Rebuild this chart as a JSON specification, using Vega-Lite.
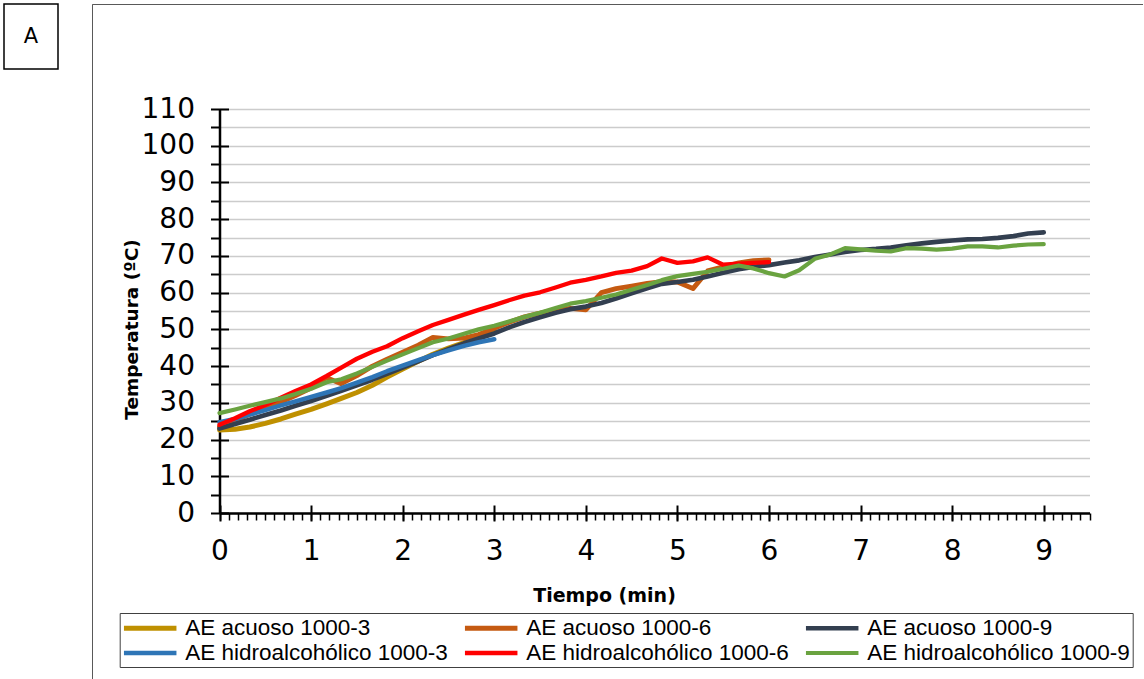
{
  "$schema": "https://vega.github.io/schema/vega-lite/v6.json",
  "background": "white",
  "padding": {"left": 3, "top": 3, "right": 0, "bottom": 0},
  "spacing": 32,
  "config": {
    "font": "DejaVu Sans",
    "axis": {"labelColor": "#000000", "tickColor": "#000000", "domainColor": "#000000", "titleColor": "#000000", "labelFont": "DejaVu Sans", "titleFont": "DejaVu Sans"}
  },
  "hconcat": [
    {
      "width": 54,
      "height": 65,
      "view": {"stroke": "#000000", "strokeWidth": 1.5, "fill": "white"},
      "data": {"values": [{"etiqueta": "A"}]},
      "mark": {"type": "text", "fontSize": 21, "font": "DejaVu Sans", "color": "#000000"},
      "encoding": {
        "text": {"field": "etiqueta"},
        "x": {"datum": 0.5, "type": "quantitative", "scale": {"domain": [0, 1]}, "axis": null},
        "y": {"datum": 0.5, "type": "quantitative", "scale": {"domain": [0, 1]}, "axis": null}
      }
    },
    {
      "width": 1050.5,
      "height": 675,
      "view": {"stroke": "#595959", "strokeWidth": 1, "strokeDash": [1050.5, 1725.5, 700, 10]},
      "data": {"values": [
        {"serie": "AE acuoso 1000-3", "t": 0, "temp": 22.6},
        {"serie": "AE acuoso 1000-3", "t": 0.17, "temp": 22.8},
        {"serie": "AE acuoso 1000-3", "t": 0.33, "temp": 23.4},
        {"serie": "AE acuoso 1000-3", "t": 0.5, "temp": 24.4},
        {"serie": "AE acuoso 1000-3", "t": 0.67, "temp": 25.6},
        {"serie": "AE acuoso 1000-3", "t": 0.83, "temp": 26.9},
        {"serie": "AE acuoso 1000-3", "t": 1, "temp": 28.2},
        {"serie": "AE acuoso 1000-3", "t": 1.17, "temp": 29.7},
        {"serie": "AE acuoso 1000-3", "t": 1.33, "temp": 31.2},
        {"serie": "AE acuoso 1000-3", "t": 1.5, "temp": 32.8},
        {"serie": "AE acuoso 1000-3", "t": 1.67, "temp": 34.8},
        {"serie": "AE acuoso 1000-3", "t": 1.83, "temp": 37.0},
        {"serie": "AE acuoso 1000-3", "t": 2, "temp": 39.2},
        {"serie": "AE acuoso 1000-3", "t": 2.17, "temp": 41.3},
        {"serie": "AE acuoso 1000-3", "t": 2.33, "temp": 43.2},
        {"serie": "AE acuoso 1000-3", "t": 2.5, "temp": 44.9},
        {"serie": "AE acuoso 1000-3", "t": 2.67, "temp": 46.4},
        {"serie": "AE acuoso 1000-3", "t": 2.83, "temp": 48.0},
        {"serie": "AE acuoso 1000-3", "t": 3, "temp": 49.4},

        {"serie": "AE acuoso 1000-6", "t": 0, "temp": 23.5},
        {"serie": "AE acuoso 1000-6", "t": 0.17, "temp": 25.2},
        {"serie": "AE acuoso 1000-6", "t": 0.33, "temp": 26.9},
        {"serie": "AE acuoso 1000-6", "t": 0.5, "temp": 28.5},
        {"serie": "AE acuoso 1000-6", "t": 0.67, "temp": 30.2},
        {"serie": "AE acuoso 1000-6", "t": 0.83, "temp": 32.0},
        {"serie": "AE acuoso 1000-6", "t": 1, "temp": 34.0},
        {"serie": "AE acuoso 1000-6", "t": 1.17, "temp": 36.8},
        {"serie": "AE acuoso 1000-6", "t": 1.33, "temp": 35.2},
        {"serie": "AE acuoso 1000-6", "t": 1.5, "temp": 37.4},
        {"serie": "AE acuoso 1000-6", "t": 1.67, "temp": 40.0},
        {"serie": "AE acuoso 1000-6", "t": 1.83, "temp": 41.9},
        {"serie": "AE acuoso 1000-6", "t": 2, "temp": 43.8},
        {"serie": "AE acuoso 1000-6", "t": 2.17, "temp": 45.7},
        {"serie": "AE acuoso 1000-6", "t": 2.33, "temp": 47.8},
        {"serie": "AE acuoso 1000-6", "t": 2.5, "temp": 47.4},
        {"serie": "AE acuoso 1000-6", "t": 2.67, "temp": 47.6},
        {"serie": "AE acuoso 1000-6", "t": 2.83, "temp": 48.6},
        {"serie": "AE acuoso 1000-6", "t": 3, "temp": 50.3},
        {"serie": "AE acuoso 1000-6", "t": 3.17, "temp": 52.0},
        {"serie": "AE acuoso 1000-6", "t": 3.33, "temp": 53.4},
        {"serie": "AE acuoso 1000-6", "t": 3.5, "temp": 54.4},
        {"serie": "AE acuoso 1000-6", "t": 3.67, "temp": 55.3},
        {"serie": "AE acuoso 1000-6", "t": 3.83, "temp": 55.7},
        {"serie": "AE acuoso 1000-6", "t": 4, "temp": 55.3},
        {"serie": "AE acuoso 1000-6", "t": 4.17, "temp": 60.0},
        {"serie": "AE acuoso 1000-6", "t": 4.33, "temp": 61.1},
        {"serie": "AE acuoso 1000-6", "t": 4.5, "temp": 61.8},
        {"serie": "AE acuoso 1000-6", "t": 4.67, "temp": 62.5},
        {"serie": "AE acuoso 1000-6", "t": 4.83, "temp": 63.0},
        {"serie": "AE acuoso 1000-6", "t": 5, "temp": 62.9},
        {"serie": "AE acuoso 1000-6", "t": 5.17, "temp": 61.1},
        {"serie": "AE acuoso 1000-6", "t": 5.33, "temp": 65.9},
        {"serie": "AE acuoso 1000-6", "t": 5.5, "temp": 67.0},
        {"serie": "AE acuoso 1000-6", "t": 5.67, "temp": 68.1},
        {"serie": "AE acuoso 1000-6", "t": 5.83, "temp": 68.7},
        {"serie": "AE acuoso 1000-6", "t": 6, "temp": 68.9},

        {"serie": "AE acuoso 1000-9", "t": 0, "temp": 23.0},
        {"serie": "AE acuoso 1000-9", "t": 0.17, "temp": 24.2},
        {"serie": "AE acuoso 1000-9", "t": 0.33, "temp": 25.4},
        {"serie": "AE acuoso 1000-9", "t": 0.5, "temp": 26.7},
        {"serie": "AE acuoso 1000-9", "t": 0.67, "temp": 27.9},
        {"serie": "AE acuoso 1000-9", "t": 0.83, "temp": 29.2},
        {"serie": "AE acuoso 1000-9", "t": 1, "temp": 30.5},
        {"serie": "AE acuoso 1000-9", "t": 1.17, "temp": 31.9},
        {"serie": "AE acuoso 1000-9", "t": 1.33, "temp": 33.3},
        {"serie": "AE acuoso 1000-9", "t": 1.5, "temp": 34.8},
        {"serie": "AE acuoso 1000-9", "t": 1.67, "temp": 36.3},
        {"serie": "AE acuoso 1000-9", "t": 1.83, "temp": 37.9},
        {"serie": "AE acuoso 1000-9", "t": 2, "temp": 39.6},
        {"serie": "AE acuoso 1000-9", "t": 2.17, "temp": 41.3},
        {"serie": "AE acuoso 1000-9", "t": 2.33, "temp": 43.0},
        {"serie": "AE acuoso 1000-9", "t": 2.5, "temp": 44.6},
        {"serie": "AE acuoso 1000-9", "t": 2.67, "temp": 46.2},
        {"serie": "AE acuoso 1000-9", "t": 2.83, "temp": 47.5},
        {"serie": "AE acuoso 1000-9", "t": 3, "temp": 48.9},
        {"serie": "AE acuoso 1000-9", "t": 3.17, "temp": 50.6},
        {"serie": "AE acuoso 1000-9", "t": 3.33, "temp": 52.0},
        {"serie": "AE acuoso 1000-9", "t": 3.5, "temp": 53.3},
        {"serie": "AE acuoso 1000-9", "t": 3.67, "temp": 54.5},
        {"serie": "AE acuoso 1000-9", "t": 3.83, "temp": 55.5},
        {"serie": "AE acuoso 1000-9", "t": 4, "temp": 56.2},
        {"serie": "AE acuoso 1000-9", "t": 4.17, "temp": 57.2},
        {"serie": "AE acuoso 1000-9", "t": 4.33, "temp": 58.4},
        {"serie": "AE acuoso 1000-9", "t": 4.5, "temp": 59.8},
        {"serie": "AE acuoso 1000-9", "t": 4.67, "temp": 61.2},
        {"serie": "AE acuoso 1000-9", "t": 4.83, "temp": 62.4},
        {"serie": "AE acuoso 1000-9", "t": 5, "temp": 62.9},
        {"serie": "AE acuoso 1000-9", "t": 5.17, "temp": 63.5},
        {"serie": "AE acuoso 1000-9", "t": 5.33, "temp": 64.4},
        {"serie": "AE acuoso 1000-9", "t": 5.5, "temp": 65.4},
        {"serie": "AE acuoso 1000-9", "t": 5.67, "temp": 66.4},
        {"serie": "AE acuoso 1000-9", "t": 5.83, "temp": 67.0},
        {"serie": "AE acuoso 1000-9", "t": 6, "temp": 67.5},
        {"serie": "AE acuoso 1000-9", "t": 6.17, "temp": 68.2},
        {"serie": "AE acuoso 1000-9", "t": 6.33, "temp": 68.8},
        {"serie": "AE acuoso 1000-9", "t": 6.5, "temp": 69.7},
        {"serie": "AE acuoso 1000-9", "t": 6.67, "temp": 70.4},
        {"serie": "AE acuoso 1000-9", "t": 6.83, "temp": 71.1},
        {"serie": "AE acuoso 1000-9", "t": 7, "temp": 71.6},
        {"serie": "AE acuoso 1000-9", "t": 7.17, "temp": 71.9},
        {"serie": "AE acuoso 1000-9", "t": 7.33, "temp": 72.3},
        {"serie": "AE acuoso 1000-9", "t": 7.5, "temp": 72.9},
        {"serie": "AE acuoso 1000-9", "t": 7.67, "temp": 73.4},
        {"serie": "AE acuoso 1000-9", "t": 7.83, "temp": 73.8},
        {"serie": "AE acuoso 1000-9", "t": 8, "temp": 74.2},
        {"serie": "AE acuoso 1000-9", "t": 8.17, "temp": 74.5},
        {"serie": "AE acuoso 1000-9", "t": 8.33, "temp": 74.6},
        {"serie": "AE acuoso 1000-9", "t": 8.5, "temp": 74.9},
        {"serie": "AE acuoso 1000-9", "t": 8.67, "temp": 75.4},
        {"serie": "AE acuoso 1000-9", "t": 8.83, "temp": 76.1},
        {"serie": "AE acuoso 1000-9", "t": 9, "temp": 76.4},

        {"serie": "AE hidroalcohólico 1000-3", "t": 0, "temp": 24.7},
        {"serie": "AE hidroalcohólico 1000-3", "t": 0.17, "temp": 25.6},
        {"serie": "AE hidroalcohólico 1000-3", "t": 0.33, "temp": 26.8},
        {"serie": "AE hidroalcohólico 1000-3", "t": 0.5, "temp": 28.0},
        {"serie": "AE hidroalcohólico 1000-3", "t": 0.67, "temp": 29.3},
        {"serie": "AE hidroalcohólico 1000-3", "t": 0.83, "temp": 30.4},
        {"serie": "AE hidroalcohólico 1000-3", "t": 1, "temp": 31.6},
        {"serie": "AE hidroalcohólico 1000-3", "t": 1.17, "temp": 32.8},
        {"serie": "AE hidroalcohólico 1000-3", "t": 1.33, "temp": 34.0},
        {"serie": "AE hidroalcohólico 1000-3", "t": 1.5, "temp": 35.5},
        {"serie": "AE hidroalcohólico 1000-3", "t": 1.67, "temp": 37.0},
        {"serie": "AE hidroalcohólico 1000-3", "t": 1.83, "temp": 38.6},
        {"serie": "AE hidroalcohólico 1000-3", "t": 2, "temp": 40.1},
        {"serie": "AE hidroalcohólico 1000-3", "t": 2.17, "temp": 41.6},
        {"serie": "AE hidroalcohólico 1000-3", "t": 2.33, "temp": 43.0},
        {"serie": "AE hidroalcohólico 1000-3", "t": 2.5, "temp": 44.3},
        {"serie": "AE hidroalcohólico 1000-3", "t": 2.67, "temp": 45.5},
        {"serie": "AE hidroalcohólico 1000-3", "t": 2.83, "temp": 46.5},
        {"serie": "AE hidroalcohólico 1000-3", "t": 3, "temp": 47.3},

        {"serie": "AE hidroalcohólico 1000-6", "t": 0, "temp": 24.0},
        {"serie": "AE hidroalcohólico 1000-6", "t": 0.17, "temp": 25.8},
        {"serie": "AE hidroalcohólico 1000-6", "t": 0.33, "temp": 27.7},
        {"serie": "AE hidroalcohólico 1000-6", "t": 0.5, "temp": 29.4},
        {"serie": "AE hidroalcohólico 1000-6", "t": 0.67, "temp": 31.4},
        {"serie": "AE hidroalcohólico 1000-6", "t": 0.83, "temp": 33.2},
        {"serie": "AE hidroalcohólico 1000-6", "t": 1, "temp": 35.0},
        {"serie": "AE hidroalcohólico 1000-6", "t": 1.17, "temp": 37.3},
        {"serie": "AE hidroalcohólico 1000-6", "t": 1.33, "temp": 39.6},
        {"serie": "AE hidroalcohólico 1000-6", "t": 1.5, "temp": 42.0},
        {"serie": "AE hidroalcohólico 1000-6", "t": 1.67, "temp": 43.9},
        {"serie": "AE hidroalcohólico 1000-6", "t": 1.83, "temp": 45.4},
        {"serie": "AE hidroalcohólico 1000-6", "t": 2, "temp": 47.6},
        {"serie": "AE hidroalcohólico 1000-6", "t": 2.17, "temp": 49.5},
        {"serie": "AE hidroalcohólico 1000-6", "t": 2.33, "temp": 51.2},
        {"serie": "AE hidroalcohólico 1000-6", "t": 2.5, "temp": 52.6},
        {"serie": "AE hidroalcohólico 1000-6", "t": 2.67, "temp": 54.0},
        {"serie": "AE hidroalcohólico 1000-6", "t": 2.83, "temp": 55.3},
        {"serie": "AE hidroalcohólico 1000-6", "t": 3, "temp": 56.6},
        {"serie": "AE hidroalcohólico 1000-6", "t": 3.17, "temp": 58.0},
        {"serie": "AE hidroalcohólico 1000-6", "t": 3.33, "temp": 59.2},
        {"serie": "AE hidroalcohólico 1000-6", "t": 3.5, "temp": 60.1},
        {"serie": "AE hidroalcohólico 1000-6", "t": 3.67, "temp": 61.4},
        {"serie": "AE hidroalcohólico 1000-6", "t": 3.83, "temp": 62.7},
        {"serie": "AE hidroalcohólico 1000-6", "t": 4, "temp": 63.5},
        {"serie": "AE hidroalcohólico 1000-6", "t": 4.17, "temp": 64.4},
        {"serie": "AE hidroalcohólico 1000-6", "t": 4.33, "temp": 65.4},
        {"serie": "AE hidroalcohólico 1000-6", "t": 4.5, "temp": 66.0},
        {"serie": "AE hidroalcohólico 1000-6", "t": 4.67, "temp": 67.2},
        {"serie": "AE hidroalcohólico 1000-6", "t": 4.83, "temp": 69.3},
        {"serie": "AE hidroalcohólico 1000-6", "t": 5, "temp": 68.1},
        {"serie": "AE hidroalcohólico 1000-6", "t": 5.17, "temp": 68.5},
        {"serie": "AE hidroalcohólico 1000-6", "t": 5.33, "temp": 69.6},
        {"serie": "AE hidroalcohólico 1000-6", "t": 5.5, "temp": 67.6},
        {"serie": "AE hidroalcohólico 1000-6", "t": 5.67, "temp": 67.9},
        {"serie": "AE hidroalcohólico 1000-6", "t": 5.83, "temp": 68.1},
        {"serie": "AE hidroalcohólico 1000-6", "t": 6, "temp": 68.3},

        {"serie": "AE hidroalcohólico 1000-9", "t": 0, "temp": 27.2},
        {"serie": "AE hidroalcohólico 1000-9", "t": 0.17, "temp": 28.2},
        {"serie": "AE hidroalcohólico 1000-9", "t": 0.33, "temp": 29.2},
        {"serie": "AE hidroalcohólico 1000-9", "t": 0.5, "temp": 30.2},
        {"serie": "AE hidroalcohólico 1000-9", "t": 0.67, "temp": 31.2},
        {"serie": "AE hidroalcohólico 1000-9", "t": 0.83, "temp": 32.4},
        {"serie": "AE hidroalcohólico 1000-9", "t": 1, "temp": 33.8},
        {"serie": "AE hidroalcohólico 1000-9", "t": 1.17, "temp": 35.6},
        {"serie": "AE hidroalcohólico 1000-9", "t": 1.33, "temp": 36.4},
        {"serie": "AE hidroalcohólico 1000-9", "t": 1.5, "temp": 38.0},
        {"serie": "AE hidroalcohólico 1000-9", "t": 1.67, "temp": 39.8},
        {"serie": "AE hidroalcohólico 1000-9", "t": 1.83, "temp": 41.5},
        {"serie": "AE hidroalcohólico 1000-9", "t": 2, "temp": 43.2},
        {"serie": "AE hidroalcohólico 1000-9", "t": 2.17, "temp": 44.9},
        {"serie": "AE hidroalcohólico 1000-9", "t": 2.33, "temp": 46.5},
        {"serie": "AE hidroalcohólico 1000-9", "t": 2.5, "temp": 47.5},
        {"serie": "AE hidroalcohólico 1000-9", "t": 2.67, "temp": 48.8},
        {"serie": "AE hidroalcohólico 1000-9", "t": 2.83, "temp": 50.0},
        {"serie": "AE hidroalcohólico 1000-9", "t": 3, "temp": 51.0},
        {"serie": "AE hidroalcohólico 1000-9", "t": 3.17, "temp": 52.2},
        {"serie": "AE hidroalcohólico 1000-9", "t": 3.33, "temp": 53.4},
        {"serie": "AE hidroalcohólico 1000-9", "t": 3.5, "temp": 54.5},
        {"serie": "AE hidroalcohólico 1000-9", "t": 3.67, "temp": 55.8},
        {"serie": "AE hidroalcohólico 1000-9", "t": 3.83, "temp": 57.0},
        {"serie": "AE hidroalcohólico 1000-9", "t": 4, "temp": 57.7},
        {"serie": "AE hidroalcohólico 1000-9", "t": 4.17, "temp": 58.6},
        {"serie": "AE hidroalcohólico 1000-9", "t": 4.33, "temp": 59.5},
        {"serie": "AE hidroalcohólico 1000-9", "t": 4.5, "temp": 60.8},
        {"serie": "AE hidroalcohólico 1000-9", "t": 4.67, "temp": 62.1},
        {"serie": "AE hidroalcohólico 1000-9", "t": 4.83, "temp": 63.4},
        {"serie": "AE hidroalcohólico 1000-9", "t": 5, "temp": 64.5},
        {"serie": "AE hidroalcohólico 1000-9", "t": 5.17, "temp": 65.1},
        {"serie": "AE hidroalcohólico 1000-9", "t": 5.33, "temp": 65.7},
        {"serie": "AE hidroalcohólico 1000-9", "t": 5.5, "temp": 66.5},
        {"serie": "AE hidroalcohólico 1000-9", "t": 5.67, "temp": 67.4},
        {"serie": "AE hidroalcohólico 1000-9", "t": 5.83, "temp": 66.6},
        {"serie": "AE hidroalcohólico 1000-9", "t": 6, "temp": 65.3},
        {"serie": "AE hidroalcohólico 1000-9", "t": 6.17, "temp": 64.4},
        {"serie": "AE hidroalcohólico 1000-9", "t": 6.33, "temp": 66.1},
        {"serie": "AE hidroalcohólico 1000-9", "t": 6.5, "temp": 69.2},
        {"serie": "AE hidroalcohólico 1000-9", "t": 6.67, "temp": 70.4},
        {"serie": "AE hidroalcohólico 1000-9", "t": 6.83, "temp": 72.1},
        {"serie": "AE hidroalcohólico 1000-9", "t": 7, "temp": 71.8},
        {"serie": "AE hidroalcohólico 1000-9", "t": 7.17, "temp": 71.4},
        {"serie": "AE hidroalcohólico 1000-9", "t": 7.33, "temp": 71.2},
        {"serie": "AE hidroalcohólico 1000-9", "t": 7.5, "temp": 72.1},
        {"serie": "AE hidroalcohólico 1000-9", "t": 7.67, "temp": 72.0},
        {"serie": "AE hidroalcohólico 1000-9", "t": 7.83, "temp": 71.7},
        {"serie": "AE hidroalcohólico 1000-9", "t": 8, "temp": 72.0},
        {"serie": "AE hidroalcohólico 1000-9", "t": 8.17, "temp": 72.6},
        {"serie": "AE hidroalcohólico 1000-9", "t": 8.33, "temp": 72.6},
        {"serie": "AE hidroalcohólico 1000-9", "t": 8.5, "temp": 72.3},
        {"serie": "AE hidroalcohólico 1000-9", "t": 8.67, "temp": 72.8},
        {"serie": "AE hidroalcohólico 1000-9", "t": 8.83, "temp": 73.1},
        {"serie": "AE hidroalcohólico 1000-9", "t": 9, "temp": 73.2}
      ]},
      "layer": [
        {
          "mark": {"type": "line", "strokeJoin": "round", "strokeCap": "round"},
          "encoding": {
            "x": {
              "field": "t", "type": "quantitative",
              "scale": {"domain": [0, 9.5], "range": [127.5, 997.5], "nice": false, "zero": false},
              "axis": {
                "orient": "bottom", "offset": -166,
                "values": [0, 1, 2, 3, 4, 5, 6, 7, 8, 9],
                "format": "d",
                "tickSize": 8, "tickWidth": 2, "domainWidth": 2.5,
                "labelFontSize": 28, "labelPadding": 16, "labelFlush": false, "labelOverlap": false,
                "grid": false,
                "title": "Tiempo (min)", "titleFontSize": 19, "titleFontWeight": "bold",
                "titlePadding": 21, "titleX": 512
              }
            },
            "y": {
              "field": "temp", "type": "quantitative",
              "scale": {"domain": [0, 110], "range": [509, 105], "nice": false, "zero": false},
              "axis": {
                "orient": "left", "offset": -127.5,
                "values": [0, 5, 10, 15, 20, 25, 30, 35, 40, 45, 50, 55, 60, 65, 70, 75, 80, 85, 90, 95, 100, 105, 110],
                "labelExpr": "datum.value % 10 == 0 ? datum.label : ''",
                "tickSize": 9, "tickWidth": 2, "domainWidth": 2.5,
                "labelFontSize": 28, "labelPadding": 16, "labelFlush": false, "labelOverlap": false,
                "grid": true, "gridColor": "#CCCCCC", "gridWidth": 1.5,
                "title": "Temperatura (ºC)", "titleFontSize": 18.5, "titleFontWeight": "bold",
                "titlePadding": 0, "titleY": 325
              }
            },
            "color": {
              "field": "serie", "type": "nominal",
              "scale": {
                "domain": ["AE acuoso 1000-3", "AE acuoso 1000-6", "AE acuoso 1000-9", "AE hidroalcohólico 1000-3", "AE hidroalcohólico 1000-6", "AE hidroalcohólico 1000-9"],
                "range": ["#BF9000", "#C55A11", "#333F50", "#2E75B6", "#FF0000", "#6AA340"]
              },
              "legend": {
                "title": null, "orient": "none", "legendX": 115.7, "legendY": 609,
                "direction": "horizontal", "columns": 3,
                "symbolType": "M-2.5,0H2.5", "symbolSize": 441, "symbolStrokeWidth": 5,
                "symbolOffset": 15.5,
                "labelFont": "Liberation Sans", "labelFontSize": 22.5, "labelColor": "#000000",
                "labelOffset": 22, "labelLimit": 400, "columnPadding": 6, "rowPadding": 0,
                "padding": 2,
                "strokeColor": "#404040", "fillColor": "white"
              }
            },
            "strokeWidth": {
              "field": "serie", "type": "nominal",
              "scale": {
                "domain": ["AE acuoso 1000-3", "AE acuoso 1000-6", "AE acuoso 1000-9", "AE hidroalcohólico 1000-3", "AE hidroalcohólico 1000-6", "AE hidroalcohólico 1000-9"],
                "range": [5, 4.2, 4.2, 4.2, 4.2, 4.2]
              },
              "legend": null
            }
          }
        },
        {
          "transform": [{"filter": "datum.t < 0"}],
          "mark": {"type": "line"},
          "encoding": {
            "x": {
              "field": "t", "type": "quantitative",
              "axis": {
                "orient": "bottom", "offset": -166,
                "values": [0, 0.1, 0.2, 0.3, 0.4, 0.5, 0.6, 0.7, 0.8, 0.9, 1, 1.1, 1.2, 1.3, 1.4, 1.5, 1.6, 1.7, 1.8, 1.9, 2, 2.1, 2.2, 2.3, 2.4, 2.5, 2.6, 2.7, 2.8, 2.9, 3, 3.1, 3.2, 3.3, 3.4, 3.5, 3.6, 3.7, 3.8, 3.9, 4, 4.1, 4.2, 4.3, 4.4, 4.5, 4.6, 4.7, 4.8, 4.9, 5, 5.1, 5.2, 5.3, 5.4, 5.5, 5.6, 5.7, 5.8, 5.9, 6, 6.1, 6.2, 6.3, 6.4, 6.5, 6.6, 6.7, 6.8, 6.9, 7, 7.1, 7.2, 7.3, 7.4, 7.5, 7.6, 7.7, 7.8, 7.9, 8, 8.1, 8.2, 8.3, 8.4, 8.5, 8.6, 8.7, 8.8, 8.9, 9, 9.1, 9.2, 9.3, 9.4, 9.5],
                "tickSize": 7, "tickWidth": 1.5,
                "labels": false, "domain": false, "grid": false, "title": null
              }
            },
            "y": {
              "field": "temp", "type": "quantitative",
              "axis": {
                "orient": "left", "offset": -127.5,
                "values": [0, 10, 20, 30, 40, 50, 60, 70, 80, 90, 100, 110],
                "tickSize": -9, "tickWidth": 2,
                "labels": false, "domain": false, "grid": false, "title": null
              }
            }
          }
        },
        {
          "transform": [{"filter": "datum.t < 0"}],
          "mark": {"type": "line"},
          "encoding": {
            "x": {
              "field": "t", "type": "quantitative",
              "axis": {
                "orient": "bottom", "offset": -166,
                "values": [0, 1, 2, 3, 4, 5, 6, 7, 8, 9],
                "tickSize": -8, "tickWidth": 2,
                "labels": false, "domain": false, "grid": false, "title": null
              }
            },
            "y": {"field": "temp", "type": "quantitative", "axis": null}
          }
        }
      ],
      "resolve": {"axis": {"x": "independent", "y": "independent"}}
    }
  ]
}
